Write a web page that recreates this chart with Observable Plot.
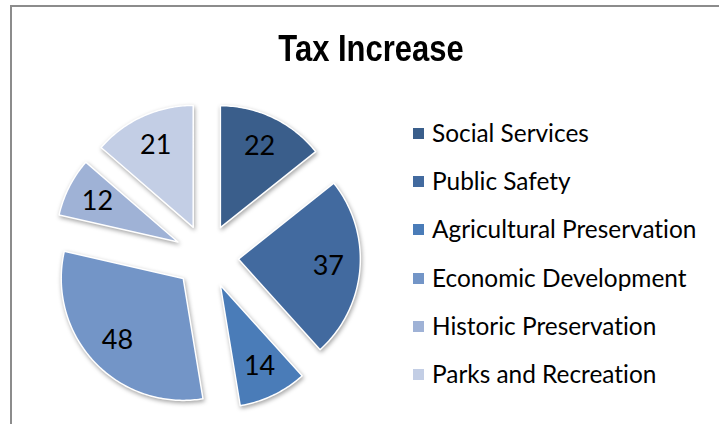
<!DOCTYPE html>
<html>
<head>
<meta charset="utf-8">
<script src="https://cdn.jsdelivr.net/npm/d3@7"></script>
<script src="https://cdn.jsdelivr.net/npm/@observablehq/plot@0.6"></script>
<style>
  html, body { margin: 0; padding: 0; background: #fff; }
  #chart { position: relative; width: 719px; height: 424px; overflow: hidden; background: #fff; }
  #frame { position: absolute; left: 10px; top: 5px; right: -10px; bottom: -10px;
           border-left: 2px solid #8c8c8c; border-top: 2px solid #8c8c8c; }
  #title { position: absolute; left: 0; width: 742px; top: 31px; text-align: center;
           font-family: "Liberation Sans", Arial, sans-serif;
           font-weight: bold; font-size: 36px; line-height: 36px; color: #000;
           transform: scaleX(0.86); transform-origin: 371px 0; }
  #plot { position: absolute; left: 0; top: 0; }
  #legend { position: absolute; left: 413px; top: 108px; font-family: Lato, "Open Sans", sans-serif;
            font-size: 24.4px; color: #000; font-variant-ligatures: none; }
  .row { display: flex; align-items: center; height: 48.3px; white-space: nowrap; }
  .sw { width: 11px; height: 11px; margin-right: 8px; flex: none; margin-top: 2px; }
</style>
</head>
<body>
<div id="chart">
  <div id="frame"></div>
  <div id="plot"></div>
  <div id="title"></div>
  <div id="legend"></div>
</div>
<script>
// ---- data ----
const titleText = "Tax Increase";
const categories = ["Social Services", "Public Safety", "Agricultural Preservation",
                    "Economic Development", "Historic Preservation", "Parks and Recreation"];
const values = [22, 37, 14, 48, 12, 21];
const colors = ["#3a5e8b", "#426a9f", "#4a7cb8", "#7395c7", "#9fb2d6", "#c3cee5"];

// ---- layout ----
const W = 719, H = 424;
const cx = 206, cy = 256, R = 122;      // pie centre & radius in px
const explode = 0.262;                   // explosion, fraction of radius
const labelR = 0.74;                     // label distance from slice apex, fraction of radius

const table = categories.map((c, i) => ({category: c, value: values[i]}));
const arcs = d3.pie().sort(null).value(d => d.value).startAngle(0).endAngle(2 * Math.PI)(table);

const pts = [];
const labels = [];
for (const a of arcs) {
  const mid = (a.startAngle + a.endAngle) / 2;
  const ox = explode * Math.sin(mid), oy = explode * Math.cos(mid);
  pts.push({category: a.data.category, x: ox, y: oy});
  const n = Math.max(8, Math.ceil((a.endAngle - a.startAngle) / (Math.PI / 180)));
  for (let k = 0; k <= n; k++) {
    const t = a.startAngle + (a.endAngle - a.startAngle) * k / n;
    pts.push({category: a.data.category, x: ox + Math.sin(t), y: oy + Math.cos(t)});
  }
  labels.push({category: a.data.category, value: a.data.value,
               x: ox + labelR * Math.sin(mid), y: oy + labelR * Math.cos(mid)});
}

const plot = Plot.plot({
  width: W, height: H,
  margin: 0,
  x: {domain: [-cx / R, (W - cx) / R], axis: null},
  y: {domain: [(cy - H) / R, cy / R], axis: null},
  color: {domain: categories, range: colors, type: "ordinal"},
  style: {background: "transparent", overflow: "visible"},
  marks: [
    Plot.line(pts, {x: "x", y: "y", z: "category", fill: "category", stroke: "#ffffff",
                    strokeWidth: 1.5, curve: "linear-closed"}),
    Plot.text(labels, {x: "x", y: "y", text: d => String(d.value), fill: "#000",
                       fontSize: 27, fontFamily: "Lato, 'Open Sans', sans-serif"})
  ]
});
plot.querySelectorAll('g[aria-label="line"]').forEach(g => {
  g.style.filter = "drop-shadow(1px 2px 2px rgba(0,0,0,0.35))";
});
document.getElementById("plot").appendChild(plot);
document.getElementById("title").textContent = titleText;

const legend = document.getElementById("legend");
categories.forEach((c, i) => {
  const row = document.createElement("div");
  row.className = "row";
  const sw = document.createElement("span");
  sw.className = "sw";
  sw.style.background = colors[i];
  const tx = document.createElement("span");
  tx.textContent = c;
  row.appendChild(sw); row.appendChild(tx);
  legend.appendChild(row);
});
</script>
</body>
</html>
